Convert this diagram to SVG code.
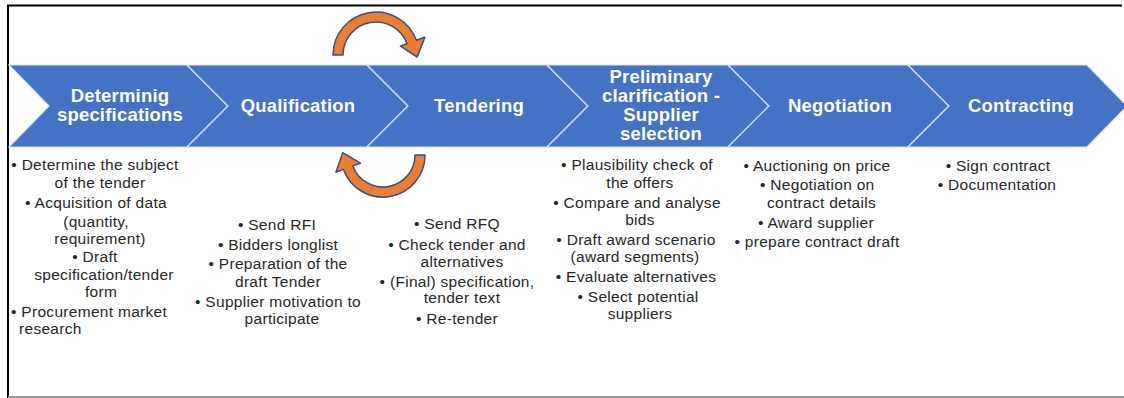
<svg xmlns="http://www.w3.org/2000/svg" width="1124" height="398" viewBox="0 0 1124 398">
<style>
.chev{fill:#4472C4;stroke:#DCE3F0;stroke-width:1.2}
.hd{font-family:"Liberation Sans",Arial,sans-serif;font-size:18.5px;font-weight:bold;fill:#FFFFFF;text-anchor:middle;letter-spacing:0.2px}
.bt{font-family:"Liberation Sans",Arial,sans-serif;font-size:15.5px;fill:#262626;letter-spacing:0.3px}
.c{text-anchor:middle}
.arc{fill:#ED7D31;stroke:#2F528F;stroke-width:1.5;stroke-linejoin:round}
</style>
<rect x="0" y="0" width="1124" height="398" fill="#FFFFFF"/>
<g id="frame">
<line x1="7" y1="5.5" x2="1122" y2="5.5" stroke="#000" stroke-width="2"/>
<line x1="8" y1="5" x2="8" y2="398" stroke="#000" stroke-width="2"/>
<line x1="8" y1="397" x2="1124" y2="397" stroke="#999" stroke-width="2"/>
</g>
<g id="connectors">
<path class="arc" d="M 333 55 A 43 43 0 0 1 416.4 40.3 L 424.9 37.2 L 417.2 57 L 400.4 46.1 L 407 43.7 A 33 33 0 0 0 343 55 Z"/>
<path class="arc" d="M 425 155 A 42 42 0 0 1 343.5 169.4 L 336 172.1 L 342.7 152.7 L 360.4 163.2 L 352.9 165.9 A 32 32 0 0 0 415 155 Z"/>
</g>
<g id="step1">
<path class="chev" d="M 9 65 L 187 65 L 228 106 L 187 147 L 9 147 L 49 106 Z"/>
<text class="hd" x="120" y="102">Determinig</text>
<text class="hd" x="120" y="121">specifications</text>
<text class="bt c" x="95" y="170">• Determine the subject</text>
<text class="bt c" x="100" y="188">of the tender</text>
<text class="bt c" x="96" y="208">• Acquisition of data</text>
<text class="bt c" x="96" y="227">(quantity,</text>
<text class="bt c" x="100" y="244">requirement)</text>
<text class="bt c" x="95" y="262">• Draft</text>
<text class="bt c" x="104" y="280">specification/tender</text>
<text class="bt c" x="101" y="297">form</text>
<text class="bt" x="11" y="317">• Procurement market</text>
<text class="bt" x="19" y="334">research</text>
</g>
<g id="step2">
<path class="chev" d="M 187 65 L 367 65 L 408 106 L 367 147 L 187 147 L 228 106 Z"/>
<text class="hd" x="298" y="112">Qualification</text>
<text class="bt c" x="277" y="230">• Send RFI</text>
<text class="bt c" x="278" y="250">• Bidders longlist</text>
<text class="bt c" x="278" y="269">• Preparation of the</text>
<text class="bt c" x="278" y="287">draft Tender</text>
<text class="bt c" x="278" y="307">• Supplier motivation to</text>
<text class="bt c" x="282" y="324">participate</text>
</g>
<g id="step3">
<path class="chev" d="M 367 65 L 547 65 L 588 106 L 547 147 L 367 147 L 408 106 Z"/>
<text class="hd" x="479" y="112">Tendering</text>
<text class="bt c" x="457" y="229">• Send RFQ</text>
<text class="bt c" x="457" y="250">• Check tender and</text>
<text class="bt c" x="462" y="267">alternatives</text>
<text class="bt c" x="457" y="287">• (Final) specification,</text>
<text class="bt c" x="462" y="303">tender text</text>
<text class="bt c" x="457" y="324">• Re-tender</text>
</g>
<g id="step4">
<path class="chev" d="M 547 65 L 728 65 L 769 106 L 728 147 L 547 147 L 588 106 Z"/>
<text class="hd" x="661" y="83">Preliminary</text>
<text class="hd" x="661" y="102">clarification -</text>
<text class="hd" x="661" y="121">Supplier</text>
<text class="hd" x="661" y="140">selection</text>
<text class="bt c" x="637" y="170">• Plausibility check of</text>
<text class="bt c" x="640" y="188">the offers</text>
<text class="bt c" x="637" y="208">• Compare and analyse</text>
<text class="bt c" x="640" y="225">bids</text>
<text class="bt c" x="636" y="245">• Draft award scenario</text>
<text class="bt c" x="635" y="262">(award segments)</text>
<text class="bt c" x="636" y="282">• Evaluate alternatives</text>
<text class="bt c" x="638" y="302">• Select potential</text>
<text class="bt c" x="640" y="319">suppliers</text>
</g>
<g id="step5">
<path class="chev" d="M 728 65 L 908 65 L 949 106 L 908 147 L 728 147 L 769 106 Z"/>
<text class="hd" x="840" y="112">Negotiation</text>
<text class="bt c" x="817" y="171">• Auctioning on price</text>
<text class="bt" x="760" y="190">• Negotiation on</text>
<text class="bt" x="767" y="208">contract details</text>
<text class="bt c" x="816" y="228">• Award supplier</text>
<text class="bt c" x="817" y="247">• prepare contract draft</text>
</g>
<g id="step6">
<path class="chev" d="M 908 65 L 1087 65 L 1127 106 L 1087 147 L 908 147 L 949 106 Z"/>
<text class="hd" x="1021" y="112">Contracting</text>
<text class="bt c" x="998" y="171">• Sign contract</text>
<text class="bt c" x="997" y="190">• Documentation</text>
</g>
</svg>
